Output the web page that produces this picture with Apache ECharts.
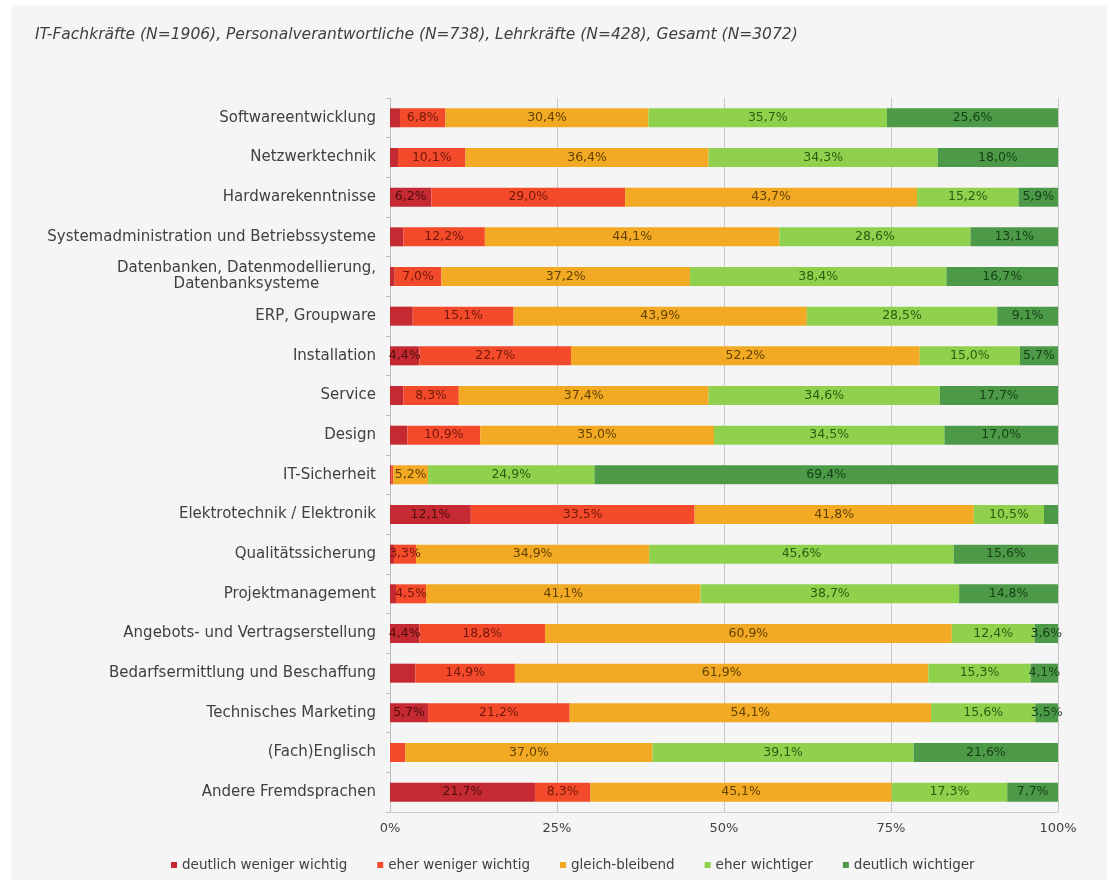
<!DOCTYPE html>
<html>
<head>
<meta charset="utf-8">
<script src="https://cdn.jsdelivr.net/npm/echarts@6/dist/echarts.min.js"></script>
<style>
html,body{margin:0;padding:0;background:#ffffff;width:1107px;height:880px;overflow:hidden;}
#chart{position:absolute;left:11px;top:5px;width:1096px;height:875px;background:#f5f5f5;}
</style>
</head>
<body>
<div id="chart"></div>
<script>
const titleText = 'IT-Fachkräfte (N=1906), Personalverantwortliche (N=738), Lehrkräfte (N=428), Gesamt (N=3072)';

const categories = [
  'Softwareentwicklung',
  'Netzwerktechnik',
  'Hardwarekenntnisse',
  'Systemadministration und Betriebssysteme',
  'Datenbanken, Datenmodellierung,\nDatenbanksysteme',
  'ERP, Groupware',
  'Installation',
  'Service',
  'Design',
  'IT-Sicherheit',
  'Elektrotechnik / Elektronik',
  'Qualitätssicherung',
  'Projektmanagement',
  'Angebots- und Vertragserstellung',
  'Bedarfsermittlung und Beschaffung',
  'Technisches Marketing',
  '(Fach)Englisch',
  'Andere Fremdsprachen'
];

const seriesNames = ['deutlich weniger wichtig', 'eher weniger wichtig', 'gleich-bleibend', 'eher wichtiger', 'deutlich wichtiger'];

const deutlichWeniger   = [1.5, 1.2, 6.2, 2.0, 0.7, 3.4, 4.4, 2.0, 2.6, 0.2, 12.1, 0.6, 0.9, 4.4, 3.8, 5.7, 0.0, 21.7];
const eherWeniger       = [6.8, 10.1, 29.0, 12.2, 7.0, 15.1, 22.7, 8.3, 10.9, 0.3, 33.5, 3.3, 4.5, 18.8, 14.9, 21.2, 2.3, 8.3];
const gleichBleibend    = [30.4, 36.4, 43.7, 44.1, 37.2, 43.9, 52.2, 37.4, 35.0, 5.2, 41.8, 34.9, 41.1, 60.9, 61.9, 54.1, 37.0, 45.1];
const eherWichtiger     = [35.7, 34.3, 15.2, 28.6, 38.4, 28.5, 15.0, 34.6, 34.5, 24.9, 10.5, 45.6, 38.7, 12.4, 15.3, 15.6, 39.1, 17.3];
const deutlichWichtiger = [25.6, 18.0, 5.9, 13.1, 16.7, 9.1, 5.7, 17.7, 17.0, 69.4, 2.1, 15.6, 14.8, 3.6, 4.1, 3.5, 21.6, 7.7];

// which segments carry no printed label in the original (indices into categories)
const unlabeled = {
  'deutlich weniger wichtig': [0, 1, 3, 4, 5, 7, 8, 9, 11, 12, 14, 16],
  'eher weniger wichtig': [9, 16],
  'gleich-bleibend': [],
  'eher wichtiger': [],
  'deutlich wichtiger': [10]
};

const xTicks = [0, 25, 50, 75, 100];

const colors = ['#c52a33', '#f24a2b', '#f2a924', '#8fd14d', '#4c9a47'];
const labelColors = ['#4f0c0c', '#741709', '#634200', '#265f10', '#173f17'];

const values = [deutlichWeniger, eherWeniger, gleichBleibend, eherWichtiger, deutlichWichtiger];

const FONT = '"DejaVu Sans", sans-serif';

const series = seriesNames.map(function (name, si) {
  return {
    name: name,
    type: 'bar',
    stack: 'total',
    barWidth: 19,
    itemStyle: { color: colors[si] },
    label: {
      show: true,
      position: 'inside',
      color: labelColors[si],
      fontSize: 12.5,
      fontFamily: FONT,
      formatter: function (p) { return p.value.toFixed(1).replace('.', ',') + '%'; }
    },
    data: values[si].map(function (v, ci) {
      const item = { value: v };
      if (unlabeled[name].indexOf(ci) >= 0) item.label = { show: false };
      return item;
    })
  };
});

const chart = echarts.init(document.getElementById('chart'), null, { renderer: 'canvas' });
chart.setOption({
  backgroundColor: '#f5f5f5',
  animation: false,
  color: colors,
  title: {
    text: titleText,
    left: 19,
    top: 17,
    textStyle: { fontSize: 15.5, fontStyle: 'italic', fontWeight: 'normal', color: '#404040', fontFamily: FONT }
  },
  legend: {
    data: seriesNames,
    left: 155,
    top: 848,
    icon: 'rect',
    itemWidth: 6,
    itemHeight: 6,
    itemGap: 30,
    textStyle: { fontSize: 13.5, color: '#404040', fontFamily: FONT }
  },
  grid: { left: 379, right: 49, top: 93, bottom: 68, containLabel: false },
  xAxis: {
    type: 'value',
    min: xTicks[0],
    max: xTicks[xTicks.length - 1],
    interval: 25,
    axisLine: { show: true, lineStyle: { color: '#d0d0d0' } },
    axisTick: { show: false },
    splitLine: { show: true, lineStyle: { color: '#c8c8c8', width: 1 } },
    axisLabel: { color: '#404040', fontSize: 13, fontFamily: FONT, margin: 10, formatter: '{value}%' }
  },
  yAxis: {
    type: 'category',
    inverse: true,
    data: categories,
    axisLine: { show: true, lineStyle: { color: '#bfbfbf' } },
    axisTick: { show: true, length: 4, lineStyle: { color: '#bfbfbf' } },
    axisLabel: {
      margin: 14,
      color: '#404040',
      fontSize: 15,
      fontFamily: FONT,
      formatter: function (v) {
        return v.split('\n').map(function (s) { return '{c|' + s + '}'; }).join('\n');
      },
      rich: { c: { align: 'center', color: '#404040', fontSize: 15, fontFamily: FONT, lineHeight: 16 } }
    }
  },
  series: series
});
</script>
</body>
</html>
